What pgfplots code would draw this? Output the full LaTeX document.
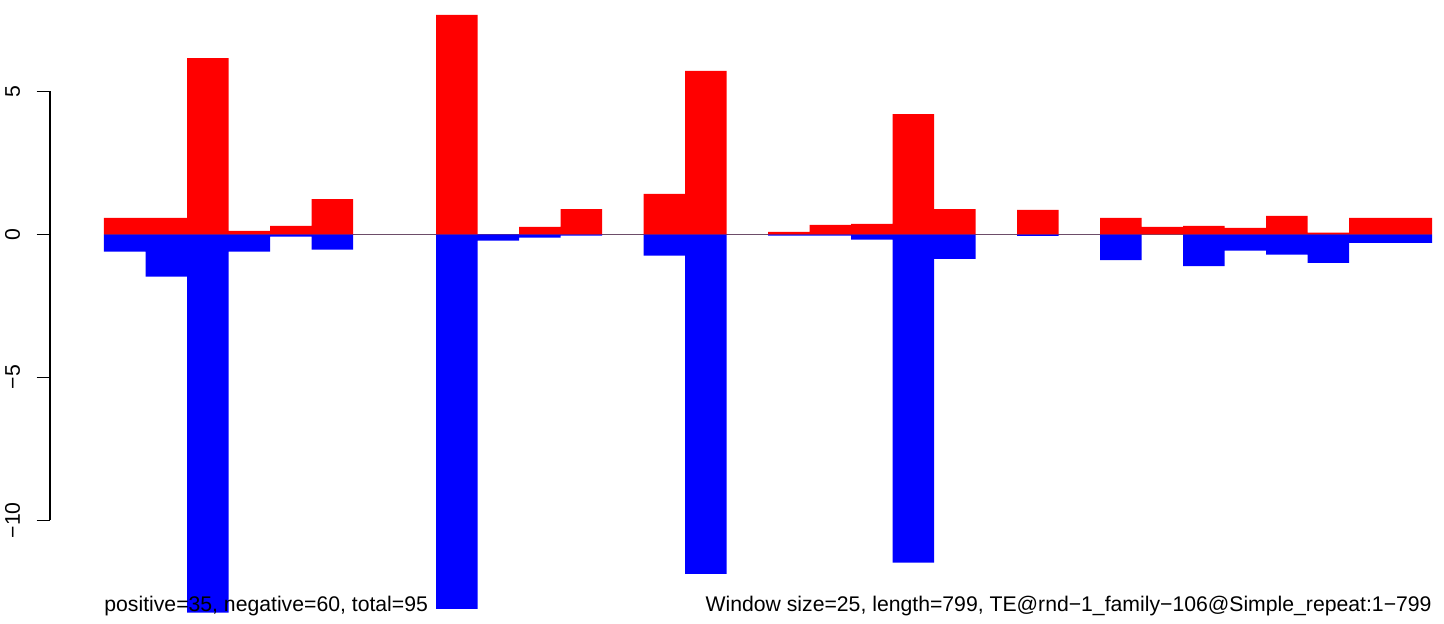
\documentclass[border=0pt]{standalone}
\usepackage{fontspec}
\setmainfont{Liberation Sans}
\usepackage{pgfplots}
\pgfplotsset{compat=1.18}
\usepackage{pgfplotstable}
\pgfplotstableread{
x pos neg
0 0.57 -0.61
1 0.57 -1.48
2 6.16 -13.23
3 0.115 -0.61
4 0.29 -0.08
5 1.23 -0.54
6 0 0
7 0 0
8 7.67 -13.10
9 0 -0.22
10 0.255 -0.12
11 0.88 -0.05
12 0 0
13 1.41 -0.75
14 5.71 -11.87
15 0 0
16 0.08 -0.05
17 0.325 -0.05
18 0.36 -0.19
19 4.20 -11.48
20 0.88 -0.86
21 0 0
22 0.85 -0.06
23 0 0
24 0.57 -0.90
25 0.255 0
26 0.29 -1.11
27 0.22 -0.57
28 0.64 -0.71
29 0.06 -1.00
30 0.57 -0.30
31 0.57 -0.30
32 0.57 -0.30
}\data
\begin{document}
\begin{tikzpicture}
\path[use as bounding box] (0,0) rectangle (722pt,312pt);
\begin{axis}[at={(25pt,0pt)}, anchor=south west, scale only axis,
  width=691pt, height=312pt,
  xmin=-1.3012, xmax=32, ymin=-13.626, ymax=8.192,
  axis x line=none, axis y line*=left,
  y axis line style={draw=none},
  ytick={-10,-5,0,5}, yticklabels={−10,−5,0,5},
  tick align=outside, major tick length=6.7pt,
  every tick/.style={black, line width=0.6pt},
  yticklabel shift=8pt,
  yticklabel style={rotate=90, anchor=south, inner sep=0pt, font=\fontsize{10.6}{12}\selectfont},
  clip=false]
\addplot[black!60, line width=0.5pt] coordinates {(0,0) (32,0)};
\addplot[ybar interval, fill=blue, draw=none] table[x=x, y=neg] {\data};
\addplot[ybar interval, fill=red, draw=none] table[x=x, y=pos] {\data};
\addplot[black, line width=0.6pt] coordinates {(-1.3012,-10) (-1.3012,5)};
\end{axis}
\node[anchor=base west, inner sep=0pt, font=\fontsize{10.6}{12}\selectfont] at (52pt,6pt) {positive=35, negative=60, total=95};
\node[anchor=base east, inner sep=0pt, font=\fontsize{10.6}{12}\selectfont] at (716pt,6pt) {Window size=25, length=799, TE@rnd−1\_family−106@Simple\_repeat:1−799};
\end{tikzpicture}
\end{document}
